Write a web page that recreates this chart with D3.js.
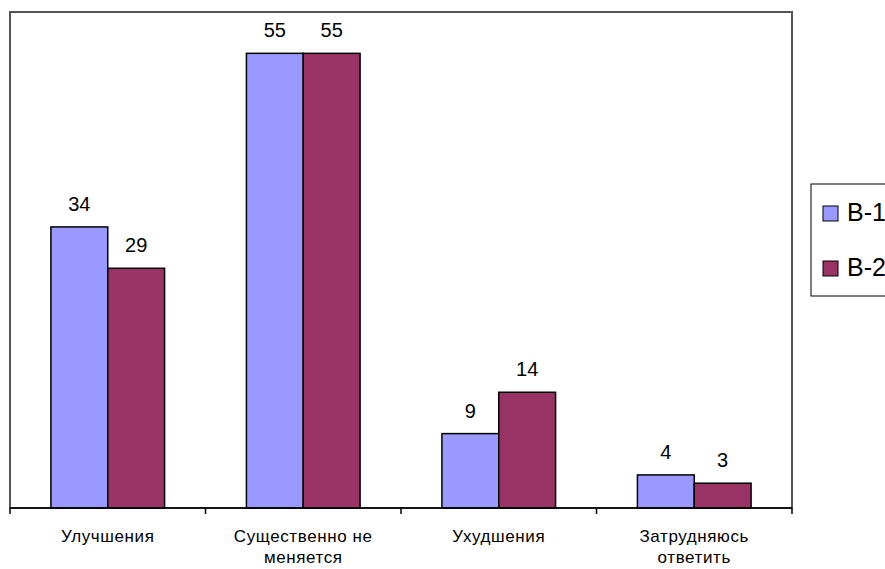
<!DOCTYPE html>
<html>
<head>
<meta charset="utf-8">
<script src="https://cdn.jsdelivr.net/npm/d3@7"></script>
<style>
  body { margin: 0; background: #fff; }
  text { font-family: "Liberation Sans", Arial, sans-serif; fill: #000; }
</style>
</head>
<body>
<script>
// categories and series
var categories = [["Улучшения"], ["Существенно не", "меняется"], ["Ухудшения"], ["Затрудняюсь", "ответить"]];
var seriesNames = ["В-1", "В-2"];
var wave1 = [34, 55, 9, 4];
var wave2 = [29, 55, 14, 3];
var colors = ["#9999ff", "#993366"];

var width = 885, height = 569;
var plot = {left: 10, top: 12, right: 792, bottom: 508};

var svg = d3.select("body").append("svg")
    .attr("width", width)
    .attr("height", height);

var x = d3.scaleBand()
    .domain(d3.range(categories.length))
    .range([plot.left, plot.right])
    .paddingInner(0)
    .paddingOuter(0);

var inner = d3.scaleBand()
    .domain(d3.range(seriesNames.length))
    .range([0, x.bandwidth()])
    .paddingOuter(0.72)
    .paddingInner(0);

var y = d3.scaleLinear().domain([0, 60]).range([plot.bottom, plot.top]);

// plot area border
svg.append("rect")
    .attr("x", plot.left)
    .attr("y", plot.top)
    .attr("width", plot.right - plot.left)
    .attr("height", plot.bottom - plot.top)
    .attr("fill", "none")
    .attr("stroke", "#555")
    .attr("stroke-width", 2);

var series = [wave1, wave2];
series.forEach(function(vals, s) {
  var g = svg.append("g");
  g.selectAll("rect")
    .data(vals)
    .enter().append("rect")
      .attr("x", function(d, i) { return x(i) + inner(s); })
      .attr("y", function(d) { return y(d); })
      .attr("width", inner.bandwidth())
      .attr("height", function(d) { return y(0) - y(d); })
      .attr("fill", colors[s])
      .attr("stroke", "#000")
      .attr("stroke-width", 1.5);
  g.selectAll("text")
    .data(vals)
    .enter().append("text")
      .attr("x", function(d, i) { return x(i) + inner(s) + inner.bandwidth() / 2; })
      .attr("y", function(d) { return y(d) - 16; })
      .attr("text-anchor", "middle")
      .style("font-size", "20px")
      .text(function(d) { return d; });
});

// x axis
var axis = svg.append("g")
    .attr("transform", "translate(0," + plot.bottom + ")");
axis.append("line")
    .attr("x1", plot.left).attr("x2", plot.right)
    .attr("stroke", "#000").attr("stroke-width", 1.5);
var ticks = d3.range(categories.length + 1).map(function(i) {
  return i < categories.length ? x(i) : plot.right;
});
axis.selectAll(".tick")
  .data(ticks)
  .enter().append("line")
    .attr("x1", function(d) { return d; })
    .attr("x2", function(d) { return d; })
    .attr("y1", 0).attr("y2", 6)
    .attr("stroke", "#000").attr("stroke-width", 1.5);

var labels = axis.selectAll(".lbl")
  .data(categories)
  .enter().append("text")
    .attr("text-anchor", "middle")
    .style("font-size", "17px")
    .style("letter-spacing", "0.6px")
    .attr("transform", function(d, i) {
      return "translate(" + (x(i) + x.bandwidth() / 2) + ",34)";
    });
labels.selectAll("tspan")
  .data(function(d) { return d; })
  .enter().append("tspan")
    .attr("x", 0)
    .attr("dy", function(d, i) { return i === 0 ? 0 : 21; })
    .text(function(d) { return d; });

// legend
var legend = svg.append("g");
legend.append("rect")
    .attr("x", 811).attr("y", 184)
    .attr("width", 90).attr("height", 112)
    .attr("fill", "#fff")
    .attr("stroke", "#000").attr("stroke-width", 1);
var items = legend.selectAll(".item")
  .data(seriesNames)
  .enter().append("g")
    .attr("transform", function(d, i) { return "translate(823," + (206 + i * 55) + ")"; });
items.append("rect")
    .attr("width", 15).attr("height", 15)
    .attr("fill", function(d, i) { return colors[i]; })
    .attr("stroke", "#000").attr("stroke-width", 1);
items.append("text")
    .attr("x", 24).attr("y", 15)
    .style("font-size", "25px")
    .text(function(d) { return d; });
</script>
</body>
</html>
